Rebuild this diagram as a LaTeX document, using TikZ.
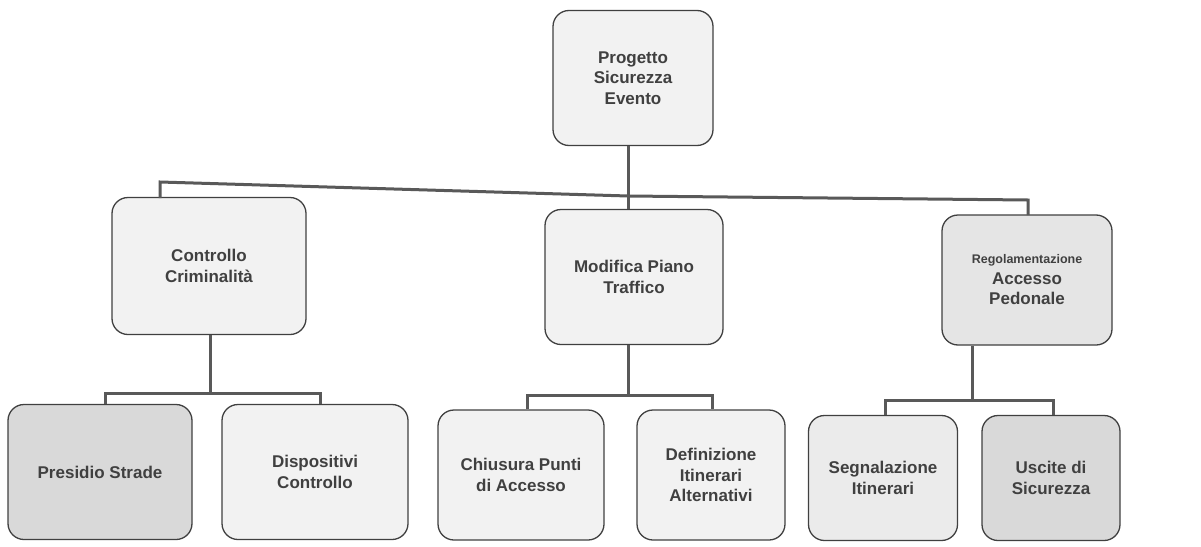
\documentclass[tikz,border=0pt]{standalone}
\usepackage{fontspec}
\setmainfont{Liberation Sans}
\begin{document}
\begin{tikzpicture}[x=1pt,y=-1pt,
  box/.style={draw=black!75, line width=1.3pt, rounded corners=16pt, fill=black!5,
    text=black!75, align=center, inner sep=2pt,
    font=\bfseries\fontsize{17}{20.5}\selectfont},
  wire/.style={draw=black!65, line width=3pt}]
\useasboundingbox (0,0) rectangle (1201,546);
% nodes
\node[box, minimum width=160pt, minimum height=135pt] (top) at (633,78) {Progetto\\Sicurezza\\Evento};
\node[box, minimum width=194pt, minimum height=137pt] (cc) at (209,266) {Controllo\\Criminalità};
\node[box, minimum width=178pt, minimum height=135pt] (mp) at (634,277) {Modifica Piano\\Traffico};
\node[box, fill=black!10, minimum width=170pt, minimum height=130pt] (ra) at (1027,280) {{\fontsize{12.5}{15}\selectfont Regolamentazione}\\Accesso\\Pedonale};
\node[box, fill=black!15, minimum width=184pt, minimum height=135pt] (ps) at (100,472) {Presidio Strade};
\node[box, minimum width=186pt, minimum height=135pt] (dc) at (315,472) {Dispositivi\\Controllo};
\node[box, minimum width=166pt, minimum height=130pt] (cp) at (521,475) {Chiusura Punti\\di Accesso};
\node[box, minimum width=148pt, minimum height=130pt] (di) at (711,475) {Definizione\\Itinerari\\Alternativi};
\node[box, fill=black!8, minimum width=149pt, minimum height=125pt] (si) at (883,478) {Segnalazione\\Itinerari};
\node[box, fill=black!15, minimum width=138pt, minimum height=125pt] (us) at (1051,478) {Uscite di\\Sicurezza};
% junction coordinates
\coordinate (j0) at (628,196);
\coordinate (j1) at (628,395);
\coordinate (j2) at (210,393);
\coordinate (j3) at (972,400);
% connectors
\draw[wire] (top.south -| j0) -- (j0);
\draw[wire] (j0) -- (160,182) -- (160,198);
\draw[wire] (j0) -- (j0 |- mp.north);
\draw[wire] (j0) -- (1028,200) -- (1028,215);
\draw[wire] (cc.south -| j2) -- (j2);
\draw[wire] (ps.north -| 105,0) -- (105,393) -- (320,393) -- (dc.north -| 320,0);
\draw[wire] (mp.south -| j1) -- (j1);
\draw[wire] (cp.north -| 527,0) -- (527,395) -- (712,395) -- (di.north -| 712,0);
\draw[wire] (ra.south -| j3) -- (j3);
\draw[wire] (si.north -| 885,0) -- (885,400) -- (1053,400) -- (us.north -| 1053,0);
\end{tikzpicture}
\end{document}
